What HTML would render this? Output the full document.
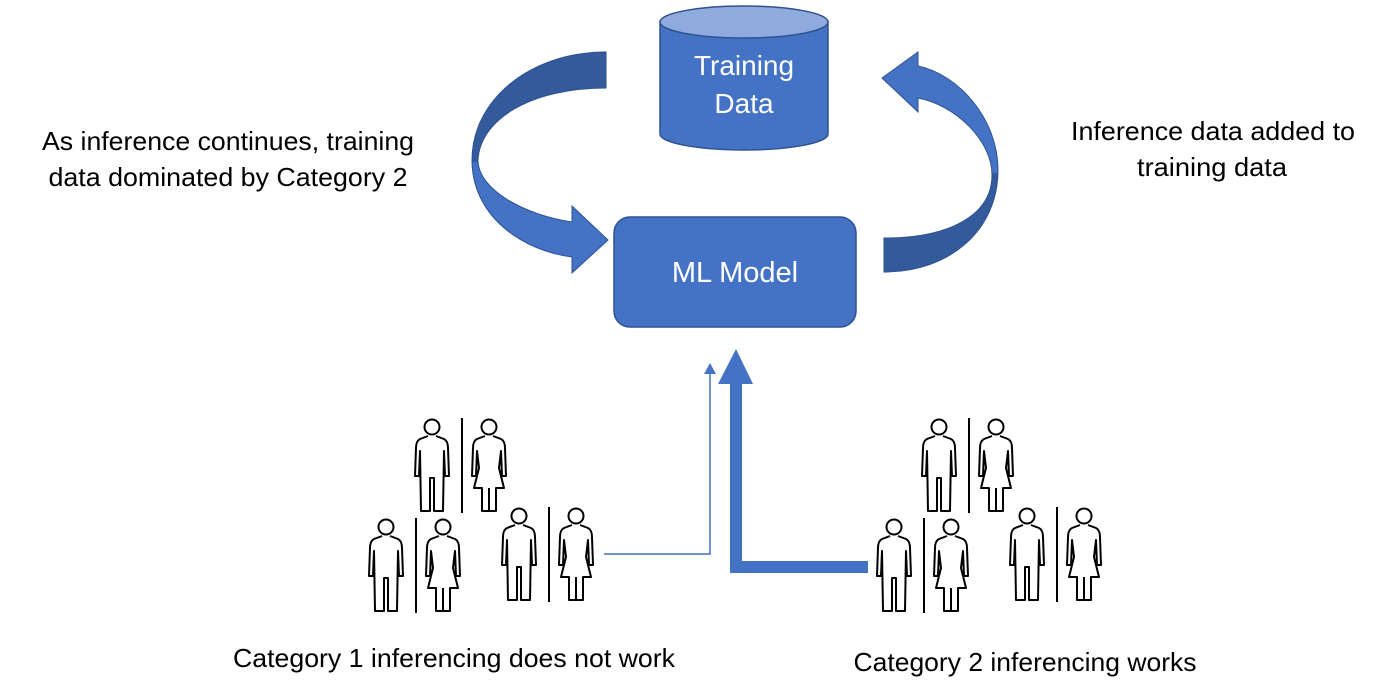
<!DOCTYPE html>
<html><head><style>
html,body{margin:0;padding:0;background:#fff;}
svg{display:block;}
text{font-family:"Liberation Sans",sans-serif;}
</style></head><body>
<svg width="1399" height="697" viewBox="0 0 1399 697" xmlns="http://www.w3.org/2000/svg">
<defs>
<linearGradient id="lg" gradientUnits="userSpaceOnUse" x1="0" y1="52" x2="0" y2="273">
<stop offset="0" stop-color="#335A9A"/><stop offset="0.5" stop-color="#335A9A"/><stop offset="0.5" stop-color="#4472C4"/><stop offset="1" stop-color="#4472C4"/>
</linearGradient>
<linearGradient id="rg" gradientUnits="userSpaceOnUse" x1="0" y1="52" x2="0" y2="272">
<stop offset="0" stop-color="#4472C4"/><stop offset="0.55" stop-color="#4472C4"/><stop offset="0.55" stop-color="#335A9A"/><stop offset="1" stop-color="#335A9A"/>
</linearGradient>
<g id="pair" fill="none" stroke="#000" stroke-width="2" stroke-linejoin="round">
<circle cx="19" cy="9" r="7.5"/>
<path d="M15,18 L7,21 Q3,23 3,30 L2,58 L6,58 L7,33 L8,93 L17,93 L17,60 L21,60 L21,93 L30,93 L31,33 L32,58 L36,58 L35,30 Q35,23 31,21 L23,18"/>
<line x1="49" y1="0" x2="49" y2="95"/>
<circle cx="76" cy="9" r="7.5"/>
<path d="M72,18 L64,21 Q60,23 60,30 L59,58 L63,58 L64,33 L66,50 L61,70 L69,70 L69,93 L83,93 L83,70 L91,70 L86,50 L88,33 L89,58 L93,58 L92,30 Q92,23 88,21 L80,18"/>
<line x1="76" y1="70" x2="76" y2="93"/>
</g>
</defs>

<path d="M660,22 L660,134 A84,16 0 0 0 828,134 L828,22 Z" fill="#4472C4" stroke="#2F528F" stroke-width="1.5"/>
<ellipse cx="744" cy="22" rx="84" ry="16" fill="#8FAADC" stroke="#2F528F" stroke-width="1.5"/>
<text x="744" y="75" font-size="28" fill="#fff" text-anchor="middle">Training</text>
<text x="744" y="113" font-size="28" fill="#fff" text-anchor="middle">Data</text>

<rect x="614" y="217" width="242" height="110" rx="16" fill="#4472C4" stroke="#2F528F" stroke-width="1.5"/>
<text x="735" y="282" font-size="29" fill="#fff" text-anchor="middle">ML Model</text>

<path d="M606,52 C530,52 472,100 472,160 C472,215 520,250 572,257 L572,273 L608,240 L572,206 L572,222 C525,215 478,190 478,160 C480,120 530,88 606,88 Z" fill="url(#lg)" stroke="#2F528F" stroke-width="1"/>
<path d="M884,272 C950,272 998,230 998,170 C998,120 960,75 918,66 L918,52 L882,78 L918,112 L918,98 C955,105 992,140 992,175 C992,215 950,238 884,238 Z" fill="url(#rg)" stroke="#2F528F" stroke-width="1"/>

<text x="228" y="150" font-size="26" fill="#000" text-anchor="middle" textLength="372" lengthAdjust="spacingAndGlyphs">As inference continues, training</text>
<text x="228" y="186" font-size="26" fill="#000" text-anchor="middle" textLength="359" lengthAdjust="spacingAndGlyphs">data dominated by Category 2</text>
<text x="1213" y="140" font-size="26" fill="#000" text-anchor="middle" textLength="284" lengthAdjust="spacingAndGlyphs">Inference data added to</text>
<text x="1212" y="176" font-size="26" fill="#000" text-anchor="middle" textLength="150" lengthAdjust="spacingAndGlyphs">training data</text>
<text x="454" y="667" font-size="26" fill="#000" text-anchor="middle" textLength="442" lengthAdjust="spacingAndGlyphs">Category 1 inferencing does not work</text>
<text x="1025" y="671" font-size="26" fill="#000" text-anchor="middle" textLength="343" lengthAdjust="spacingAndGlyphs">Category 2 inferencing works</text>

<polyline points="604,554 710,554 710,372" fill="none" stroke="#4472C4" stroke-width="1.5"/>
<polygon points="710,363 704,374 716,374" fill="#4472C4"/>
<polygon points="868,561 742,561 742,384 753,384 736,349 718,384 730,384 730,573 868,573" fill="#4472C4"/>

<use href="#pair" x="413" y="418"/>
<use href="#pair" x="367" y="518"/>
<use href="#pair" x="500" y="507"/>
<use href="#pair" x="920" y="418"/>
<use href="#pair" x="875" y="518"/>
<use href="#pair" x="1008" y="507"/>
</svg>
</body></html>
